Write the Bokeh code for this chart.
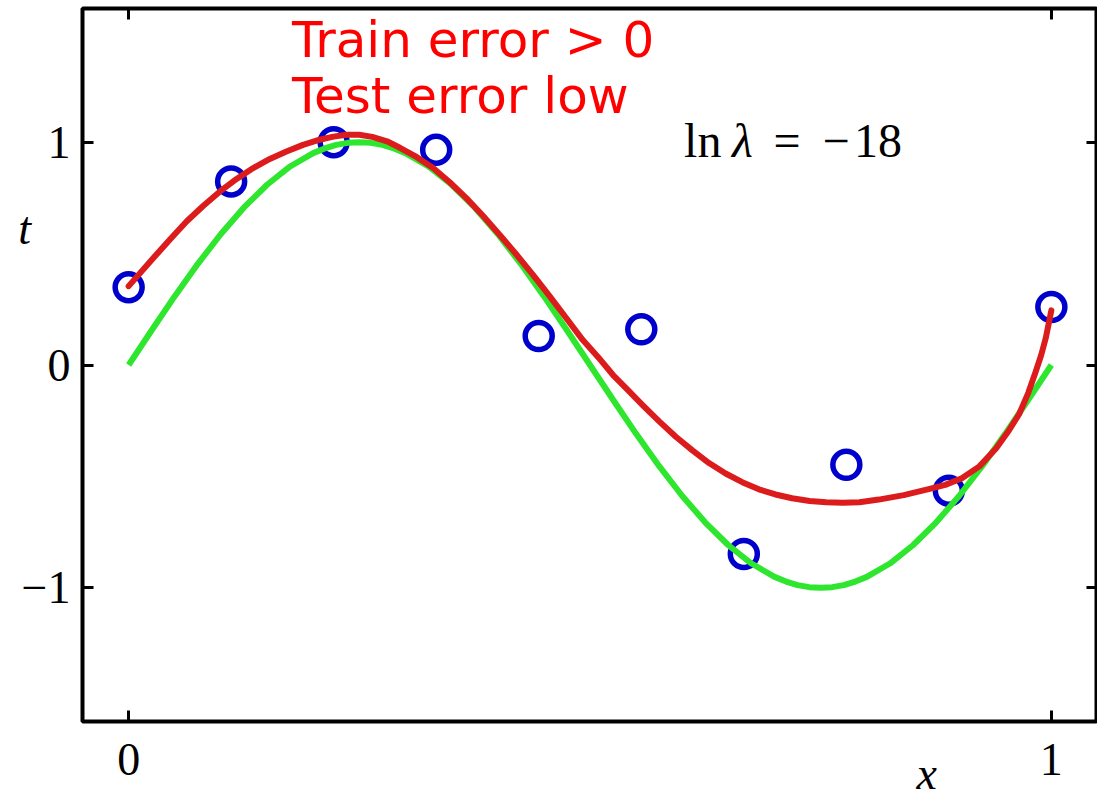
from bokeh.plotting import figure
from bokeh.models import Range1d, LinearAxis, FixedTicker, Label
from bokeh.embed import file_html
from bokeh.resources import INLINE

# Training observations (x_n, t_n)
obs_x = [0.0, 0.1111, 0.2222, 0.3333, 0.4444, 0.5556, 0.6667, 0.7778, 0.8889, 1.0]
obs_t = [0.349, 0.824, 1.000, 0.966, 0.130, 0.160, -0.848, -0.448, -0.564, 0.260]

# Underlying generating curve, sampled
true_x = [0.000, 0.025, 0.050, 0.075, 0.100, 0.125, 0.150, 0.175, 0.200, 0.2125,
          0.225, 0.2375, 0.250, 0.2625, 0.275, 0.2875, 0.300, 0.325, 0.350, 0.375,
          0.400, 0.425, 0.450, 0.475, 0.500, 0.525, 0.550, 0.575, 0.600, 0.625,
          0.650, 0.675, 0.700, 0.7125, 0.725, 0.7375, 0.750, 0.7625, 0.775, 0.7875,
          0.800, 0.825, 0.850, 0.875, 0.900, 0.925, 0.950, 0.975, 1.000]
true_t = [0.000, 0.156, 0.309, 0.454, 0.588, 0.707, 0.809, 0.891, 0.951, 0.972,
          0.988, 0.997, 1.000, 0.997, 0.988, 0.972, 0.951, 0.891, 0.809, 0.707,
          0.588, 0.454, 0.309, 0.156, 0.000, -0.156, -0.309, -0.454, -0.588, -0.707,
          -0.809, -0.891, -0.951, -0.972, -0.988, -0.997, -1.000, -0.997, -0.988, -0.972,
          -0.951, -0.891, -0.809, -0.707, -0.588, -0.454, -0.309, -0.156, 0.000]

# Regularised M = 9 polynomial fit
fit_x = [0.000, 0.027, 0.045, 0.063, 0.081, 0.099, 0.117, 0.135, 0.153, 0.171,
         0.189, 0.207, 0.222, 0.236, 0.250, 0.264, 0.280, 0.294, 0.312, 0.330,
         0.348, 0.366, 0.384, 0.402, 0.420, 0.438, 0.456, 0.474, 0.492, 0.512,
         0.525, 0.539, 0.557, 0.575, 0.593, 0.611, 0.629, 0.647, 0.665, 0.683,
         0.701, 0.719, 0.738, 0.756, 0.774, 0.792, 0.813, 0.840, 0.867, 0.885,
         0.903, 0.922, 0.940, 0.953, 0.965, 0.975, 0.983, 0.989, 0.994, 1.000]
fit_t = [0.354, 0.481, 0.564, 0.645, 0.715, 0.779, 0.835, 0.884, 0.925, 0.958,
         0.988, 1.011, 1.025, 1.033, 1.033, 1.024, 1.004, 0.975, 0.934, 0.884,
         0.820, 0.749, 0.670, 0.585, 0.497, 0.406, 0.310, 0.212, 0.113, 0.020,
         -0.045, -0.104, -0.180, -0.253, -0.322, -0.383, -0.440, -0.487, -0.526, -0.558,
         -0.581, -0.598, -0.610, -0.616, -0.618, -0.616, -0.604, -0.584, -0.557, -0.538,
         -0.508, -0.455, -0.375, -0.300, -0.221, -0.125, -0.030, 0.045, 0.122, 0.245]

x_ticks = [0, 1]
t_ticks = [-1, 0, 1]
t_tick_labels = {-1: "\u22121", 0: "0", 1: "1"}
x_name_pos = 0.865

SERIF = "Liberation Serif"
TICK_SIZE = "46px"

p = figure(width=1097, height=802, output_backend="svg", toolbar_location=None,
           x_range=Range1d(-0.05, 1.05), y_range=Range1d(-1.6, 1.6),
           x_axis_location=None, y_axis_location=None,
           min_border_left=82, min_border_right=0, min_border_top=8, min_border_bottom=81)
p.background_fill_color = "white"
p.border_fill_color = "white"
p.grid.visible = False
p.outline_line_color = "black"
p.outline_line_width = 4


def styled_axis(ticks, show_labels, overrides=None):
    ax = LinearAxis(ticker=FixedTicker(ticks=ticks))
    ax.axis_line_color = None
    ax.major_tick_in = 11
    ax.major_tick_out = 0
    ax.major_tick_line_width = 3
    ax.major_tick_line_color = "black"
    ax.minor_tick_line_color = None
    if show_labels:
        ax.major_label_text_font = SERIF
        ax.major_label_text_font_size = TICK_SIZE
        ax.major_label_text_color = "black"
        if overrides:
            ax.major_label_overrides = overrides
    else:
        ax.major_label_text_font_size = "0px"
        ax.major_label_standoff = 0
    return ax


left = styled_axis(t_ticks, True, t_tick_labels)
left.major_label_standoff = 12
bottom = styled_axis(x_ticks, True)
bottom.major_label_standoff = 22
right = styled_axis(t_ticks, False)
top = styled_axis(x_ticks, False)
p.add_layout(left, "left")
p.add_layout(bottom, "below")
p.add_layout(right, "right")
p.add_layout(top, "above")

# "x" symbol: a second bottom axis with a single unmarked tick whose label is the symbol
x_name = LinearAxis(ticker=FixedTicker(ticks=[x_name_pos]))
x_name.axis_line_color = None
x_name.major_tick_line_color = None
x_name.minor_tick_line_color = None
x_name.major_tick_out = 0
x_name.major_tick_in = 0
x_name.major_label_overrides = {x_name_pos: "x"}
x_name.major_label_text_font = SERIF
x_name.major_label_text_font_style = "italic"
x_name.major_label_text_font_size = TICK_SIZE
x_name.major_label_text_color = "black"
x_name.major_label_standoff = -30
p.add_layout(x_name, "below")

# data points, true curve, fitted curve
p.scatter(obs_x, obs_t, marker="circle", size=27, fill_color=None,
          line_color="#0000cc", line_width=5.5)
p.line(true_x, true_t, line_color="#2ee62e", line_width=6, line_join="round")
p.line(fit_x, fit_t, line_color="#dc1c1c", line_width=6, line_join="round", line_cap="round")

# "t" symbol, kept in the left panel so it sits outside the frame
p.add_layout(Label(x=-0.1196, y=0.613, text="t", text_font=SERIF, text_font_style="italic",
                   text_font_size=TICK_SIZE, text_baseline="alphabetic", text_color="black"), "left")

# regularisation annotation
base_y = 1.007


def math_text(x, s, italic=False):
    p.add_layout(Label(x=x, y=base_y, text=s, text_font=SERIF,
                       text_font_style="italic" if italic else "normal",
                       text_font_size="48px", text_baseline="alphabetic", text_color="black"))


math_text(0.602, "ln")
math_text(0.654, "\u03bb", italic=True)
math_text(0.699, "=")
math_text(0.752, "\u2212")
math_text(0.786, "18")

# error remarks
p.add_layout(Label(x=0.177, y=1.459, text="Train error > 0", text_font="DejaVu Sans",
                   text_font_size="50px", text_baseline="alphabetic", text_color="#ff0000"))
p.add_layout(Label(x=0.177, y=1.209, text="Test error low", text_font="DejaVu Sans",
                   text_font_size="50px", text_baseline="alphabetic", text_color="#ff0000"))

open("out.html", "w").write(file_html(p, INLINE))
